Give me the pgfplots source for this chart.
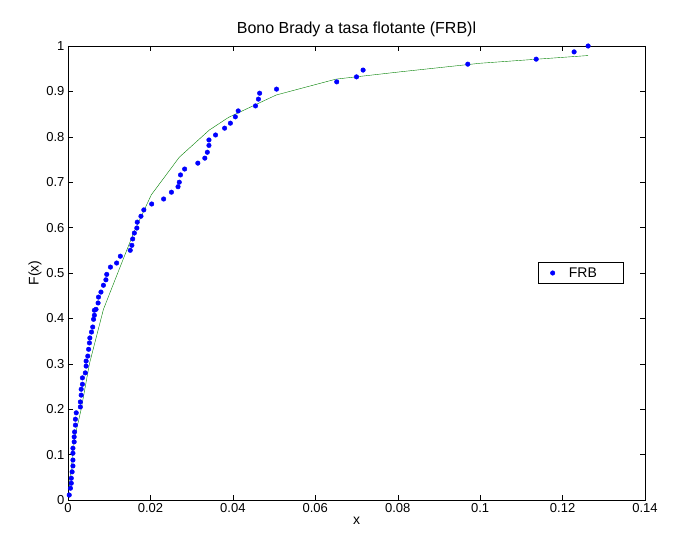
\documentclass[border=0pt]{standalone}
\usepackage{pgfplots}
\pgfplotsset{compat=1.18}
\usepackage{fontspec}
\setmainfont{Liberation Sans}
\begin{document}
\begin{tikzpicture}
\begin{axis}[name=ax,
  scale only axis, width=577pt, height=454pt,
  xmin=0, xmax=0.14, ymin=0, ymax=1,
  xtick={0,0.02,...,0.14}, ytick={0,0.1,...,1},
  xticklabels={0,0.02,0.04,0.06,0.08,0.1,0.12,0.14},
  yticklabels={0,0.1,0.2,0.3,0.4,0.5,0.6,0.7,0.8,0.9,1},
  tick align=inside, tick style={black, thin}, major tick length=5pt,
  ticklabel style={font=\fontsize{13}{15}\selectfont},
  xlabel={x}, ylabel={F(x)},
  label style={font=\fontsize{14}{16}\selectfont},
  xlabel style={yshift=3pt}, ylabel style={yshift=-2pt},
  title={Bono Brady a tasa flotante (FRB)l},
  title style={font=\fontsize{16}{18}\selectfont, yshift=0pt},
  legend style={at={(0.962,0.5)}, anchor=east, font=\fontsize{14}{16}\selectfont, draw=black, inner xsep=4pt, inner ysep=3pt, legend cell align=left},
  axis line style={black, thin},
]
\addplot[only marks, mark=*, mark size=2.3pt, blue,
  legend image code/.code={\path (0pt,0pt) (24pt,0pt); \draw plot coordinates {(10pt,0pt)};}] coordinates {
(0.0003,0.011)(0.0006,0.026)(0.0008,0.037)(0.0008,0.048)(0.001,0.062)(0.0012,0.075)(0.0012,0.088)(0.0012,0.103)(0.0012,0.114)(0.0015,0.128)(0.0015,0.139)(0.0016,0.15)(0.0018,0.165)(0.0018,0.178)(0.002,0.192)
(0.003,0.205)(0.003,0.216)(0.0032,0.231)(0.0032,0.244)(0.0035,0.255)(0.0035,0.269)(0.0042,0.28)(0.0044,0.295)(0.0044,0.306)(0.0048,0.317)(0.005,0.332)(0.0052,0.346)(0.0053,0.357)(0.0057,0.37)(0.006,0.381)(0.0062,0.398)(0.0064,0.407)(0.0064,0.418)(0.0068,0.42)(0.0073,0.434)(0.0074,0.447)(0.008,0.458)(0.0086,0.473)(0.0092,0.485)(0.0094,0.497)(0.0103,0.513)(0.0118,0.522)(0.0127,0.537)(0.0151,0.55)(0.0155,0.561)(0.0157,0.575)(0.0161,0.588)(0.0167,0.599)(0.0168,0.612)(0.0177,0.625)(0.0184,0.639)(0.0203,0.652)(0.0232,0.663)(0.0251,0.678)(0.0267,0.69)(0.027,0.70)(0.0273,0.716)(0.0283,0.729)(0.0315,0.742)(0.0332,0.753)(0.0338,0.766)(0.0342,0.781)(0.0342,0.793)(0.0358,0.804)(0.038,0.819)(0.0394,0.83)(0.0406,0.844)(0.0413,0.857)(0.0455,0.868)(0.0462,0.883)(0.0465,0.896)(0.0506,0.905)(0.0652,0.921)(0.070,0.932)(0.0716,0.947)(0.0970,0.960)(0.1136,0.971)(0.1228,0.987)(0.1262,1.0)
};
\addlegendentry{FRB\rule{20pt}{0pt}}
\addplot[green!50!black, thin, forget plot] coordinates {
(0.0003,0.03)(0.0008,0.07)(0.0013,0.125)(0.0032,0.2)(0.0052,0.30)(0.0086,0.42)(0.0125,0.51)(0.016,0.59)(0.0202,0.672)(0.027,0.755)(0.0343,0.815)(0.039,0.843)(0.0505,0.892)(0.065,0.927)(0.0805,0.943)(0.1,0.962)(0.1262,0.979)
};
\end{axis}
\pgfresetboundingbox
\path ([xshift=-68pt,yshift=-49pt]ax.south west) rectangle ([xshift=33pt,yshift=46pt]ax.north east);
\end{tikzpicture}
\end{document}
